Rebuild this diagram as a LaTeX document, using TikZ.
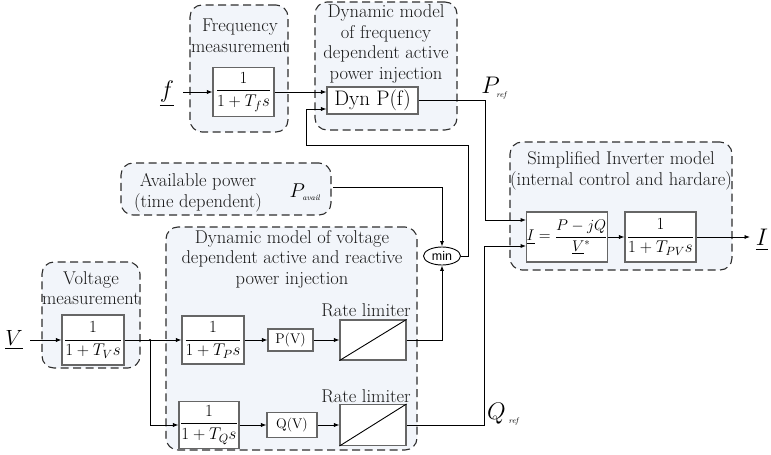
\RequirePackage{fix-cm}
\documentclass[tikz,border=0pt]{standalone}
\usepackage{amsmath}
\usepackage{fontspec}
\newfontfamily\minfont{Liberation Sans}
\usetikzlibrary{arrows.meta,shapes.geometric}
\definecolor{grpfill}{HTML}{F2F5FA}
\definecolor{grpline}{HTML}{2E2E2E}
\definecolor{blkline}{HTML}{666666}
\begin{document}
\begin{tikzpicture}[x=1pt,y=-1pt,
  group/.style={draw=grpline, dash pattern=on 8pt off 4.5pt, line width=1.1pt, rounded corners=12pt, fill=grpfill, inner sep=0pt},
  title/.style={align=center, font=\fontsize{18.5}{20.5}\selectfont, text=black!90, inner sep=0pt},
  blk/.style={draw=blkline, line width=1.1pt, fill=white, inner sep=1pt, font=\fontsize{17}{19}\selectfont},
  conn/.style={line width=0.9pt, black, -{Latex[length=5.5pt,width=4.2pt]}},
  rlline/.style={line width=0.9pt, black},
  big/.style={inner sep=0pt, font=\fontsize{24}{24}\selectfont}
]
\useasboundingbox (0,0) rectangle (771,455);

% groups
\node[group, minimum width=98pt, minimum height=127pt] (gFM) at (239,68.5) {};
\node[group, minimum width=142pt, minimum height=128pt] (gDF) at (386,66) {};
\node[group, minimum width=210pt, minimum height=52pt] (gAP) at (226,189) {};
\node[group, minimum width=251pt, minimum height=223pt] (gDV) at (291.5,338.5) {};
\node[group, minimum width=98pt, minimum height=106pt] (gVM) at (91,315) {};
\node[group, minimum width=222pt, minimum height=128pt] (gIN) at (621,206) {};

% titles
\node[title] (tFM) at (240,36) {Frequency\\measurement};
\node[title] (tDF) at (386,44) {Dynamic model\\of frequency\\dependent active\\power injection};
\node[title] (tAP) at (198,193) {Available power\\(time dependent)};
\node[title] (tDV) at (292,259) {Dynamic model of voltage\\dependent active and reactive\\power injection};
\node[title] (tVM) at (91,288) {Voltage\\measurement};
\node[title] (tIN) at (621,171) {Simplified Inverter model\\(internal control and hardare)};

% blocks
\node[blk, minimum width=61pt, minimum height=49pt] (Tf) at (243.5,92) {$\dfrac{1}{1+T_{f}s}$};
\node[blk, minimum width=91pt, minimum height=27pt, font=\fontsize{21}{23}\selectfont] (Dyn) at (372.5,100.5) {Dyn P(f)};
\node[blk, minimum width=62pt, minimum height=50pt] (TV) at (93,340) {$\dfrac{1}{1+T_{V}s}$};
\node[blk, minimum width=62pt, minimum height=48pt] (TP) at (213,340) {$\dfrac{1}{1+T_{P}s}$};
\node[blk, minimum width=45pt, minimum height=22pt, font=\fontsize{14}{16}\selectfont] (PV) at (290.5,340) {P(V)};
\node[blk, minimum width=66pt, minimum height=40pt] (RL1) at (373,340) {};
\node[blk, minimum width=60pt, minimum height=47pt] (TQ) at (209,425) {$\dfrac{1}{1+T_{Q}s}$};
\node[blk, minimum width=50pt, minimum height=25pt, font=\fontsize{14}{16}\selectfont] (QV) at (292,425) {Q(V)};
\node[blk, minimum width=66pt, minimum height=41pt] (RL2) at (373,425) {};
\node[title] (rl1t) at (366,310) {Rate limiter};
\node[title] (rl2t) at (366,396) {Rate limiter};
\node[blk, minimum width=72pt, minimum height=50pt, inner sep=0pt, font=\fontsize{15.5}{18}\selectfont] (Idiv) at (567,237) {$\underline{I}=\dfrac{P-jQ}{\underline{V}^{*}}$};
\node[blk, minimum width=71pt, minimum height=50pt] (TPV) at (660.5,237) {$\dfrac{1}{1+T_{PV}s}$};
\node[ellipse, draw, line width=0.9pt, fill=white, minimum width=37pt, minimum height=18pt, inner sep=0pt, font=\minfont\fontsize{12.5}{14}\selectfont] (min) at (442,256) {min};

% big labels
\node[big] (fl) at (167,94) {$\underline{f}$};
\node[big, font=\fontsize{22}{22}\selectfont] (Vl) at (14,340) {$\underline{V}$};
\node[big] (Il) at (762,240) {$\underline{I}$};
\node[big] (Pref) at (494,88) {$P_{\mbox{\fontsize{8}{8}\selectfont\itshape ref}}$};
\node[big] (Qref) at (503,414) {$Q_{\,\mbox{\fontsize{8}{8}\selectfont\itshape ref}}$};
\node[big, font=\fontsize{20}{20}\selectfont] (Pav) at (305,192) {$P_{\mbox{\fontsize{8}{8}\selectfont\itshape avail}}$};

% coordinates
\coordinate (fin) at (183,92);
\coordinate (vin) at (30,340);
\coordinate (pa) at (333,187);
\coordinate (br) at (150,340);
\coordinate (pc) at (485,220);
\coordinate (qc) at (484,246);
\coordinate (m1) at (468,145);
\coordinate (m2) at (306,109);
\coordinate (iout) at (750,237);

% connectors
\draw[conn] (fin) -- (Tf.west);
\draw[conn] (Tf.east) -- (Tf.east -| Dyn.west);
\draw[conn] (Dyn.east) -| (pc) -- (pc -| Idiv.west);
\draw[conn] (RL2.east) -| (qc) -- (qc -| Idiv.west);
\draw[conn] (min.east) -| (m1) -| (m2) -- (m2 -| Dyn.west);
\draw[conn] (pa) -| (min.north);
\draw[conn] (RL1.east) -| (min.south);
\draw[conn] (vin) -- (TV.west);
\draw[conn] (TV.east) -- (TP.west);
\draw[conn] (br) |- (TQ.west);
\fill (br) circle (1.2pt);
\draw[conn] (TP.east) -- (PV.west);
\draw[conn] (PV.east) -- (RL1.west);
\draw[conn] (TQ.east) -- (QV.west);
\draw[conn] (QV.east) -- (RL2.west);
\draw[conn] (Idiv.east) -- (TPV.west);
\draw[conn] (TPV.east) -- (iout);
\draw[rlline] (RL1.south west) -- (RL1.north east);
\draw[rlline] (RL2.south west) -- (RL2.north east);
\end{tikzpicture}
\end{document}
